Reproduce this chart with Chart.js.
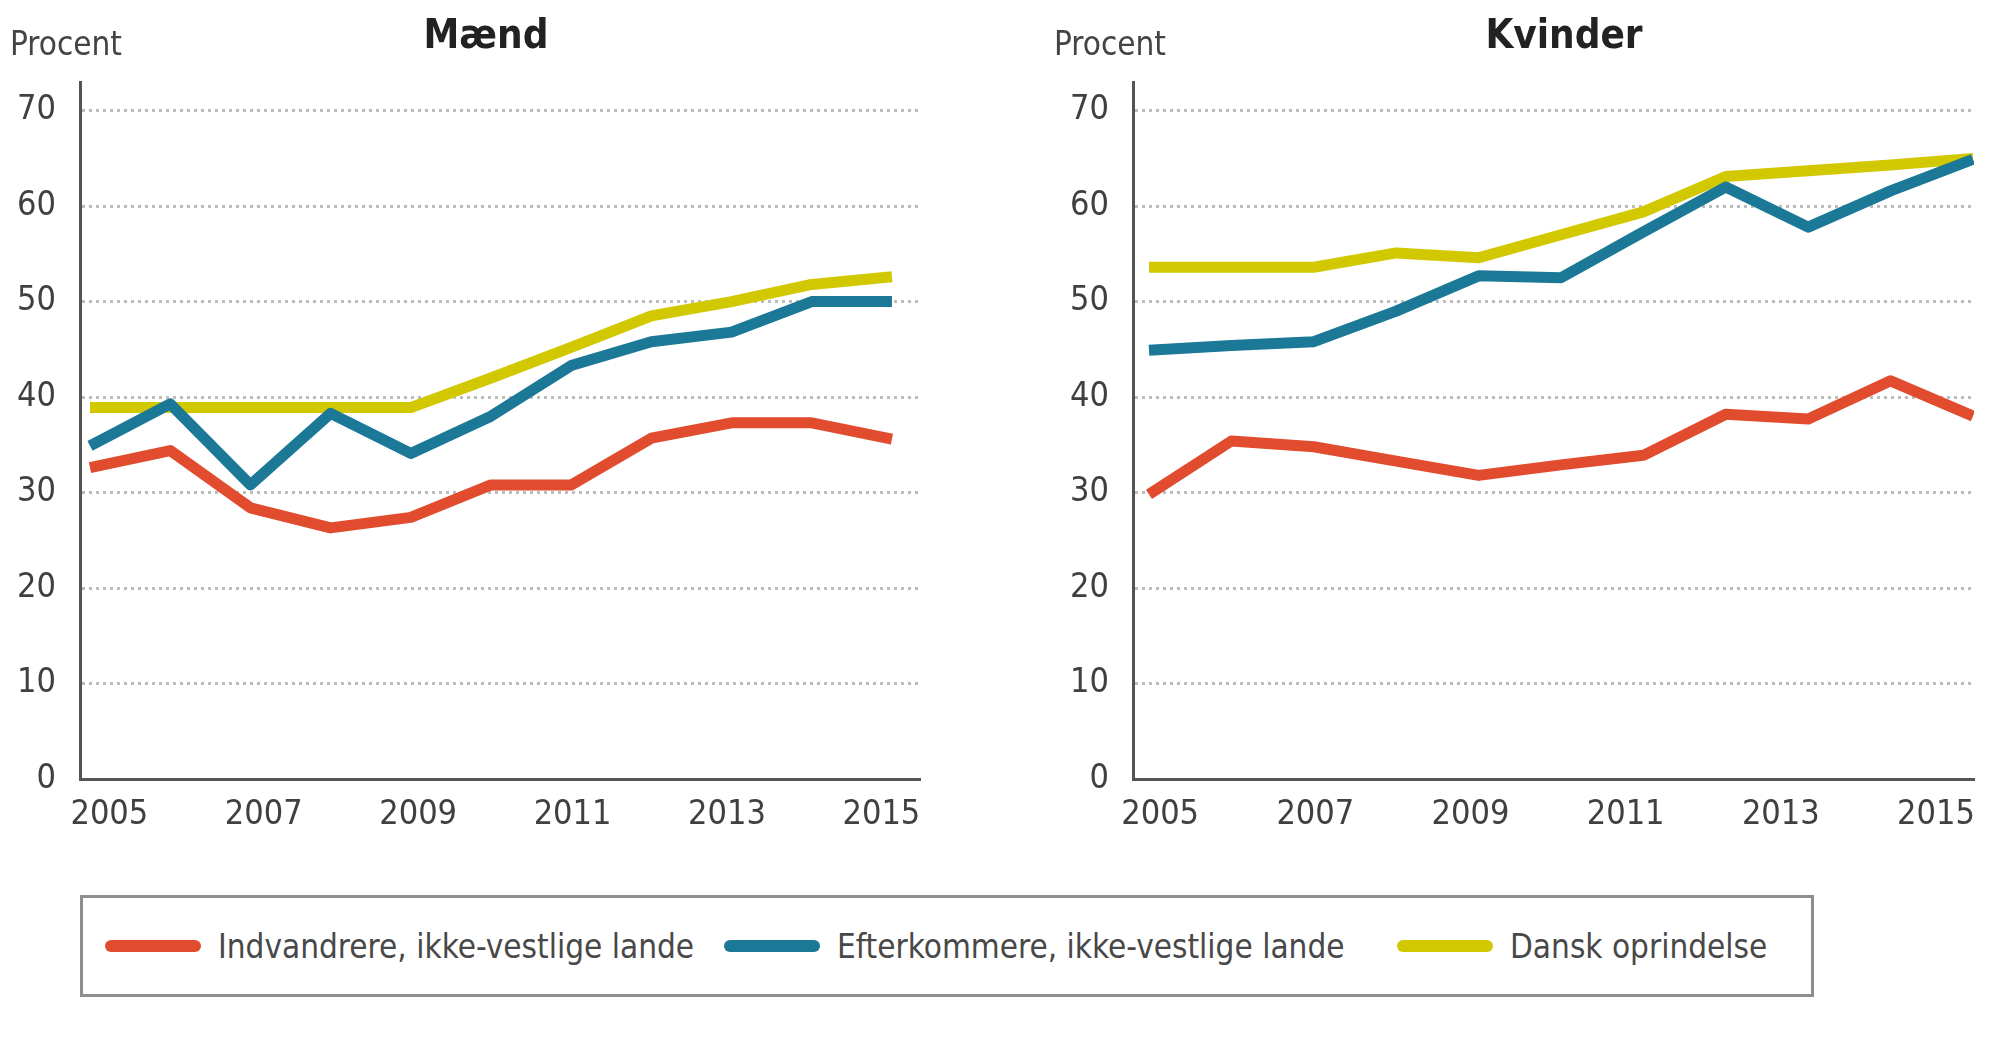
<!DOCTYPE html>
<html>
<head>
<meta charset="utf-8">
<script src="https://cdn.jsdelivr.net/npm/chart.js@4"></script>
<style>
    html, body { margin: 0; padding: 0; background: #fff; overflow: hidden; }
    body { width: 2000px; height: 1051px; position: relative;
           font-family: "DejaVu Sans Condensed", "Liberation Sans Narrow", sans-serif; }
    .panel { position: absolute; top: 0; width: 1000px; height: 880px; }
    #legend { position: absolute; left: 80px; top: 895px; width: 1734px; height: 102px;
              box-sizing: border-box; border: 3px solid #8e8e8e; }
    .item { position: absolute; top: 0; height: 96px; display: flex; align-items: center;
            font-size: 33px; color: #484848; white-space: nowrap; }
    .swatch { display: inline-block; width: 96px; height: 12px; border-radius: 6px; margin-right: 17px; }
</style>
</head>
<body>
<div class="panel" style="left:0"><canvas id="maendChart"></canvas></div>
<div class="panel" style="left:1000px"><canvas id="kvinderChart"></canvas></div>
<div id="legend"></div>

<script>
const years = [2005, 2006, 2007, 2008, 2009, 2010, 2011, 2012, 2013, 2014, 2015];
const yearTicks = [2005, 2007, 2009, 2011, 2013, 2015];
const percentTicks = [0, 10, 20, 30, 40, 50, 60, 70];

const seriesNames = ["Indvandrere, ikke-vestlige lande", "Efterkommere, ikke-vestlige lande", "Dansk oprindelse"];
const seriesColors = ["#e14b2e", "#1b7896", "#d2c800"];

// Mænd
const maendIndvandrere = [32.6, 34.4, 28.4, 26.3, 27.4, 30.8, 30.8, 35.7, 37.3, 37.3, 35.6];
const maendEfterkommere = [34.9, 39.3, 30.8, 38.3, 34.1, 38.0, 43.3, 45.8, 46.8, 50.0, 50.0];
const maendDansk = [38.9, 38.9, 38.9, 38.9, 38.9, 42.0, 45.2, 48.5, 50.0, 51.8, 52.6];

// Kvinder
const kvinderIndvandrere = [29.8, 35.4, 34.8, 33.3, 31.8, 32.9, 33.9, 38.2, 37.7, 41.7, 38.0];
const kvinderEfterkommere = [44.9, 45.4, 45.8, 49.0, 52.7, 52.5, 57.3, 62.0, 57.8, 61.6, 64.9];
const kvinderDansk = [53.6, 53.6, 53.6, 55.1, 54.6, 57.0, 59.4, 63.1, 63.7, 64.3, 65.0];

const FONT = "'DejaVu Sans Condensed', 'Liberation Sans Narrow', sans-serif";
Chart.defaults.font.family = FONT;
Chart.defaults.color = "#404040";

// Title + "Procent" drawn on top of the canvas
const headerPlugin = {
    id: "header",
    afterDraw(chart, args, opts) {
        const ctx = chart.ctx;
        ctx.save();
        ctx.fillStyle = "#444";
        ctx.textBaseline = "alphabetic";
        ctx.textAlign = "left";
        ctx.font = "33px " + FONT;
        ctx.fillText("Procent", opts.unitX, 55);
        ctx.fillStyle = "#222";
        ctx.textAlign = "center";
        ctx.font = "bold 40px " + FONT;
        ctx.fillText(opts.title, opts.titleX, 48);
        ctx.restore();
    }
};

function makeDatasets(values) {
    return values.map((vals, i) => ({
        label: seriesNames[i],
        data: years.map((y, j) => ({ x: y, y: vals[j] })),
        borderColor: seriesColors[i],
        backgroundColor: seriesColors[i],
        borderWidth: 11,
        pointRadius: 0,
        tension: 0,
        borderJoinStyle: "round",
        xAxisID: "xd"
    }));
}

function renderPanel(canvasId, values, cfg) {
    const ctx = document.getElementById(canvasId).getContext("2d");
    return new Chart(ctx, {
        type: "line",
        data: { datasets: makeDatasets(values) },
        plugins: [headerPlugin],
        options: {
            responsive: true,
            maintainAspectRatio: false,
            animation: false,
            layout: { padding: { top: 82, right: cfg.padRight, left: 0, bottom: 0 } },
            plugins: {
                legend: { display: false },
                tooltip: { enabled: false },
                header: { title: cfg.title, titleX: cfg.titleX, unitX: cfg.unitX }
            },
            scales: {
                // data axis (hidden)
                xd: {
                    type: "linear",
                    position: "bottom",
                    display: false,
                    min: cfg.dataMin,
                    max: cfg.dataMax
                },
                // visible year axis
                x: {
                    type: "linear",
                    position: "bottom",
                    min: cfg.labelMin,
                    max: cfg.labelMax,
                    afterBuildTicks: (axis) => { axis.ticks = yearTicks.map(v => ({ value: v })); },
                    afterFit: (axis) => { axis.height = 101; },
                    grid: { display: false, drawTicks: false },
                    border: { display: true, color: "#555", width: 3 },
                    ticks: {
                        font: { size: 34 },
                        padding: 16,
                        maxRotation: 0,
                        autoSkip: false,
                        callback: (v) => String(v)
                    }
                },
                y: {
                    min: 0,
                    max: 73,
                    afterBuildTicks: (axis) => { axis.ticks = percentTicks.map(v => ({ value: v })); },
                    afterFit: (axis) => { axis.width = cfg.yWidth; },
                    grid: { color: "#bdbdbd", lineWidth: 3, drawTicks: false },
                    border: { display: true, color: "#555", width: 3, dash: [3, 4] },
                    ticks: { font: { size: 34 }, padding: cfg.yPad }
                }
            }
        }
    });
}

renderPanel("maendChart", [maendIndvandrere, maendEfterkommere, maendDansk], {
    title: "Mænd", titleX: 486, unitX: 10, padRight: 80, yWidth: 80, yPad: 24,
    dataMin: 2004.875, dataMax: 2015.35, labelMin: 2004.62, labelMax: 2015.5
});

renderPanel("kvinderChart", [kvinderIndvandrere, kvinderEfterkommere, kvinderDansk], {
    title: "Kvinder", titleX: 564, unitX: 54, padRight: 26, yWidth: 133, yPad: 24,
    dataMin: 2004.806, dataMax: 2015.012, labelMin: 2004.65, labelMax: 2015.49
});

// Shared legend below both panels
const legendLefts = [22, 641, 1314];
const legend = document.getElementById("legend");
seriesNames.forEach((name, i) => {
    const item = document.createElement("div");
    item.className = "item";
    item.style.left = legendLefts[i] + "px";
    item.innerHTML = `<span class="swatch" style="background:${seriesColors[i]}"></span>${name}`;
    legend.appendChild(item);
});
</script>
</body>
</html>
